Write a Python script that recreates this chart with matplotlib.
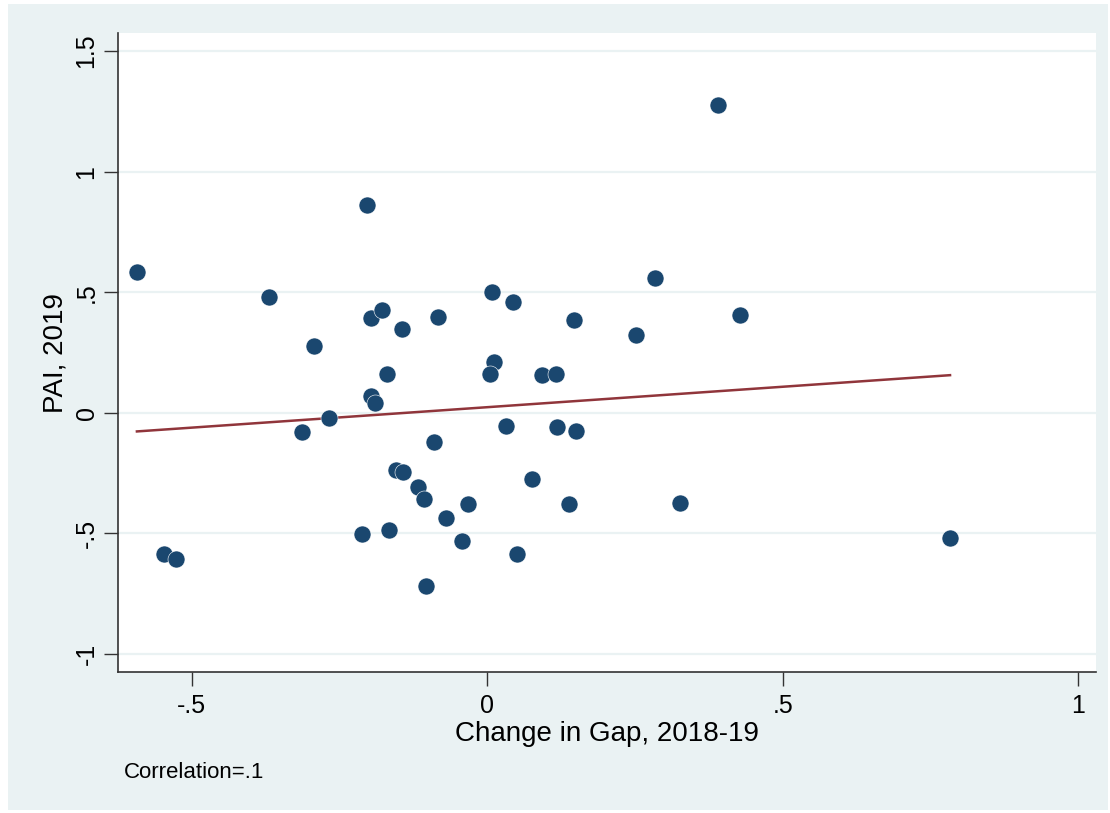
import numpy as np
import matplotlib.pyplot as plt
from matplotlib.patches import Rectangle

plt.rcParams['font.family'] = ['Liberation Sans', 'DejaVu Sans']

# Change in gap 2018-19 (x) and PAI 2019 (y)
gap_change = [-0.593, -0.547, -0.527, -0.369, -0.294, -0.314, -0.268, -0.204,
              -0.197, -0.178, -0.145, -0.170, -0.197, -0.190, -0.212, -0.167,
              -0.155, -0.143, -0.117, -0.107, -0.083, -0.090, -0.070, -0.033,
              -0.043, -0.104, 0.008, 0.044, 0.011, 0.005, 0.032, 0.076,
              0.050, 0.093, 0.116, 0.118, 0.147, 0.150, 0.138, 0.251,
              0.284, 0.390, 0.326, 0.428, 0.783]
pai = [0.583, -0.584, -0.607, 0.480, 0.277, -0.080, -0.022, 0.862,
       0.393, 0.426, 0.347, 0.161, 0.069, 0.041, -0.502, -0.486,
       -0.237, -0.245, -0.308, -0.357, 0.397, -0.121, -0.438, -0.380,
       -0.532, -0.720, 0.500, 0.459, 0.211, 0.161, -0.053, -0.273,
       -0.585, 0.156, 0.160, -0.060, 0.385, -0.074, -0.380, 0.323,
       0.558, 1.276, -0.374, 0.405, -0.518]

x_ticks = [-0.5, 0, 0.5, 1]
x_labels = ['-.5', '0', '.5', '1']
y_ticks = [-1, -0.5, 0, 0.5, 1, 1.5]
y_labels = ['-1', '-.5', '0', '.5', '1', '1.5']

bg = '#eaf2f3'
navy = '#1a476f'
maroon = '#90353b'

x = np.array(gap_change)
y = np.array(pai)

fig = plt.figure(figsize=(11.1, 8.13), dpi=100)
fig.patch.set_facecolor('white')
# light graph region (Stata s2color style)
fig.patches.append(Rectangle((8 / 1110, 0.004), 1 - 8 / 1110 - 0.002, 1 - 4 / 813 - 0.004,
                             transform=fig.transFigure, facecolor=bg,
                             edgecolor='none', zorder=-10))

ax = fig.add_axes([118 / 1110, 1 - 672 / 813, (1096 - 118) / 1110, (672 - 33) / 813])
ax.set_facecolor('white')

# linear fit over the data range
slope, intercept = np.polyfit(x, y, 1)
xs = np.array([x.min(), x.max()])
ax.plot(xs, slope * xs + intercept, color=maroon, lw=1.8, zorder=3)

ax.scatter(x, y, s=150, color=navy, edgecolors='white', linewidths=0.4, zorder=4)

ax.set_xlim(-0.625, 1.030)
ax.set_ylim(-1.075, 1.575)

ax.set_xticks(x_ticks)
ax.set_xticklabels(x_labels)
ax.set_yticks(y_ticks)
ax.set_yticklabels(y_labels, rotation=90, va='center')
ax.tick_params(axis='both', direction='out', length=10, width=1, color='#333333',
               labelsize=18, labelcolor='black')
ax.tick_params(axis='x', pad=6)
ax.tick_params(axis='y', pad=4)

ax.grid(axis='y', color=bg, lw=1.6)
ax.set_axisbelow(True)
for s in ['top', 'right']:
    ax.spines[s].set_visible(False)
for s in ['left', 'bottom']:
    ax.spines[s].set_color('#333333')
    ax.spines[s].set_linewidth(1.2)

ax.set_xlabel('Change in Gap, 2018-19', fontsize=20, labelpad=2)
ax.set_ylabel('PAI, 2019', fontsize=20, labelpad=4)

fig.text(124 / 1110, 1 - 778 / 813, 'Correlation=.1', fontsize=16, ha='left', va='baseline')

fig.savefig('out.png', dpi=100, facecolor=fig.get_facecolor())
